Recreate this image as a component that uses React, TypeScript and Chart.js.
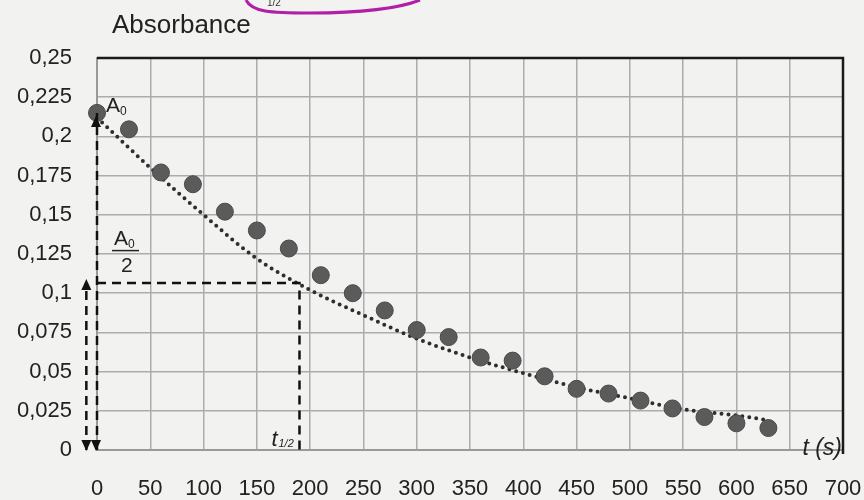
import React, { useEffect, useRef } from "react";
import { Chart, registerables } from "chart.js";

Chart.register(...registerables);

// ---- data ----
const times = [0, 30, 60, 90, 120, 150, 180, 210, 240, 270, 300, 330, 360, 390, 420, 450, 480, 510, 540, 570, 600, 630];
const absorbance = [0.215, 0.2045, 0.177, 0.1695, 0.152, 0.14, 0.1285, 0.1115, 0.1, 0.089, 0.0765, 0.072, 0.059, 0.057, 0.047, 0.039, 0.036, 0.0315, 0.0265, 0.021, 0.017, 0.014];

const trendTimes = [0, 50, 100, 150, 200, 250, 300, 350, 400, 450, 500, 550, 600, 630];
const trendValues = [0.212, 0.18, 0.15, 0.122, 0.102, 0.086, 0.071, 0.059, 0.049, 0.04, 0.033, 0.026, 0.022, 0.019];

const xTicksMin = 0;
const xTicksMax = 700;
const xStep = 50;
const yTicksMin = 0;
const yTicksMax = 0.25;
const yStep = 0.025;

const a0Value = 0.215;
const halfValue = 0.1065;
const halfLifeTime = 190;
const sideArrowTime = -10;

const fmt = (v: number) => {
  let s = Number(v).toFixed(3);
  s = s.replace(/0+$/, "").replace(/\.$/, "");
  return s.replace(".", ",");
};

const FONT = "'Liberation Sans', Arial, sans-serif";

function drawArrowHead(ctx: CanvasRenderingContext2D, x: number, y: number, dir: "up" | "down") {
  const w = 5;
  const h = 11;
  ctx.beginPath();
  if (dir === "up") {
    ctx.moveTo(x, y);
    ctx.lineTo(x - w, y + h);
    ctx.lineTo(x + w, y + h);
  } else {
    ctx.moveTo(x, y);
    ctx.lineTo(x - w, y - h);
    ctx.lineTo(x + w, y - h);
  }
  ctx.closePath();
  ctx.fill();
}

const decorPlugin = {
  id: "decor",
  beforeDraw(chart: any) {
    const { ctx, width, height } = chart;
    ctx.save();
    ctx.fillStyle = "#f2f2f1";
    ctx.fillRect(0, 0, width, height);
    ctx.restore();
  },
  afterDraw(chart: any) {
    const { ctx, chartArea } = chart;
    const xs = chart.scales.x;
    const ys = chart.scales.y;
    ctx.save();
    // top and right frame
    ctx.strokeStyle = "#1a1a1a";
    ctx.lineWidth = 2.5;
    ctx.beginPath();
    ctx.moveTo(chartArea.left, chartArea.top);
    ctx.lineTo(chartArea.right, chartArea.top);
    ctx.lineTo(chartArea.right, chartArea.bottom + 4);
    ctx.stroke();

    // arrowheads
    ctx.fillStyle = "#111";
    const x0 = xs.getPixelForValue(0) - 1;
    drawArrowHead(ctx, x0, ys.getPixelForValue(a0Value) + 3, "up");
    drawArrowHead(ctx, x0, ys.getPixelForValue(0) + 1, "down");
    const xs2 = xs.getPixelForValue(sideArrowTime);
    drawArrowHead(ctx, xs2, ys.getPixelForValue(halfValue) - 4, "up");
    drawArrowHead(ctx, xs2, ys.getPixelForValue(0) + 1, "down");

    // title
    ctx.fillStyle = "#222";
    ctx.textBaseline = "alphabetic";
    ctx.textAlign = "left";
    ctx.font = `26px ${FONT}`;
    ctx.fillText("Absorbance", 112, 33);

    // A0 label
    const ax = xs.getPixelForValue(0) + 9;
    const ay = ys.getPixelForValue(a0Value) - 1;
    ctx.font = `21px ${FONT}`;
    ctx.fillText("A", ax, ay);
    ctx.font = `12px ${FONT}`;
    ctx.fillText("0", ax + 14, ay + 3);

    // A0 / 2 fraction
    const fx = xs.getPixelForValue(0) + 17;
    const fy = ys.getPixelForValue(0.131);
    ctx.font = `21px ${FONT}`;
    ctx.fillText("A", fx, fy);
    ctx.font = `12px ${FONT}`;
    ctx.fillText("0", fx + 14, fy + 3);
    ctx.strokeStyle = "#222";
    ctx.lineWidth = 1.5;
    ctx.beginPath();
    ctx.moveTo(fx - 2, fy + 6);
    ctx.lineTo(fx + 25, fy + 6);
    ctx.stroke();
    ctx.font = `21px ${FONT}`;
    ctx.fillText("2", fx + 7, fy + 27);

    // t1/2 label
    const tx = xs.getPixelForValue(halfLifeTime) - 28;
    const ty = ys.getPixelForValue(0) - 4;
    ctx.font = `italic 22px ${FONT}`;
    ctx.fillText("t", tx, ty);
    ctx.font = `italic 11px ${FONT}`;
    ctx.fillText("1/2", tx + 7, ty + 1);

    // t (s) label
    ctx.font = `italic 23px ${FONT}`;
    ctx.textAlign = "right";
    ctx.fillText("t (s)", chartArea.right - 1, chartArea.bottom + 5);

    // scan remnant at top: magenta circled mark
    ctx.strokeStyle = "#b01fa6";
    ctx.lineWidth = 3;
    ctx.beginPath();
    ctx.moveTo(246, 0);
    ctx.bezierCurveTo(252, 12, 270, 13, 310, 13);
    ctx.bezierCurveTo(360, 13, 400, 8, 420, 0);
    ctx.stroke();
    ctx.fillStyle = "#333";
    ctx.textAlign = "left";
    ctx.font = `10px ${FONT}`;
    ctx.fillText("1/2", 267, 6);
    ctx.restore();
  },
};

export default function App() {
  const ref = useRef<HTMLCanvasElement | null>(null);
  useEffect(() => {
    if (!ref.current) return;
    const dash = [9, 6];
    const chart = new Chart(ref.current, {
      type: "scatter",
      data: {
        datasets: [
          {
            label: "guide-a0",
            data: [
              { x: 0, y: 0 },
              { x: 0, y: a0Value },
            ],
            showLine: true,
            borderColor: "#111",
            borderWidth: 2.5,
            borderDash: dash,
            pointRadius: 0,
            clip: false as any,
          },
          {
            label: "guide-half",
            data: [
              { x: 0, y: halfValue },
              { x: halfLifeTime, y: halfValue },
              { x: halfLifeTime, y: -0.003 },
            ],
            showLine: true,
            borderColor: "#111",
            borderWidth: 2.5,
            borderDash: dash,
            pointRadius: 0,
            clip: false as any,
          },
          {
            label: "guide-side",
            data: [
              { x: sideArrowTime, y: 0 },
              { x: sideArrowTime, y: halfValue },
            ],
            showLine: true,
            borderColor: "#111",
            borderWidth: 2.5,
            borderDash: dash,
            pointRadius: 0,
            clip: false as any,
          },
          {
            label: "Mesures",
            data: times.map((t, i) => ({ x: t, y: absorbance[i] })),
            pointRadius: 8.5,
            pointBackgroundColor: "#5b5b5b",
            pointBorderColor: "#4a4a4a",
            pointBorderWidth: 1,
            showLine: false,
            clip: false as any,
          },
          {
            label: "Tendance",
            data: trendTimes.map((t, i) => ({ x: t, y: trendValues[i] })),
            showLine: true,
            borderColor: "#2e2e2e",
            borderWidth: 4,
            borderDash: [0, 7],
            borderCapStyle: "round",
            cubicInterpolationMode: "monotone",
            pointRadius: 0,
          },
        ],
      },
      options: {
        animation: false,
        responsive: false,
        layout: { padding: { top: 58, right: 21, left: 0, bottom: 0 } },
        plugins: {
          legend: { display: false },
          tooltip: { enabled: false },
        },
        scales: {
          x: {
            type: "linear",
            min: xTicksMin,
            max: xTicksMax,
            ticks: {
              stepSize: xStep,
              color: "#222",
              font: { family: FONT, size: 22 },
              padding: 26,
              maxRotation: 0,
              autoSkip: false,
            },
            grid: { color: "#acacac", lineWidth: 1.5, drawTicks: false },
            border: { color: "#9a9a9a", width: 2 },
            afterFit: (s: any) => {
              s.height = 50;
              s.paddingLeft = 0;
              s.paddingRight = 0;
            },
          },
          y: {
            type: "linear",
            min: yTicksMin,
            max: yTicksMax,
            ticks: {
              stepSize: yStep,
              color: "#222",
              font: { family: FONT, size: 22 },
              padding: 25,
              callback: (v: any) => fmt(Number(v)),
              autoSkip: false,
            },
            grid: { color: "#acacac", lineWidth: 1.5, drawTicks: false },
            border: { color: "#9a9a9a", width: 2 },
            afterFit: (s: any) => {
              s.width = 97;
              s.paddingTop = 0;
              s.paddingBottom = 0;
            },
          },
        },
      },
      plugins: [decorPlugin],
    });
    return () => chart.destroy();
  }, []);
  return (
    <div style={{ position: "absolute", left: 0, top: 0, width: 864, height: 500 }}>
      <canvas ref={ref} width={864} height={500} />
    </div>
  );
}
